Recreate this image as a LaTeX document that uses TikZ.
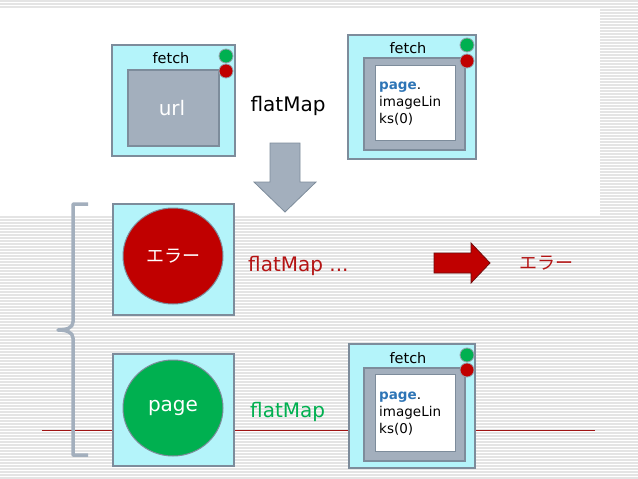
\documentclass[tikz,border=0pt]{standalone}
\usepackage{fontspec}
\usetikzlibrary{shapes.geometric}
\setmainfont{DejaVu Sans}
\newfontfamily\jpfont{Noto Sans CJK JP}
\definecolor{cyanfill}{RGB}{180,244,250}
\definecolor{boxedge}{RGB}{125,140,155}
\definecolor{grayfill}{RGB}{163,175,189}
\definecolor{okgreen}{RGB}{0,176,80}
\definecolor{errred}{RGB}{192,0,0}
\definecolor{txtred}{RGB}{180,20,20}
\definecolor{pageblue}{RGB}{46,117,182}
\definecolor{stripe}{RGB}{228,228,228}
\definecolor{lineRed}{RGB}{160,20,20}
\begin{document}
\begin{tikzpicture}[x=1pt,y=-1pt,
  outerbox/.style={draw=boxedge,line width=1.3pt,fill=cyanfill,minimum width=#1,inner sep=0pt},
  graybox/.style={draw=boxedge,line width=1.3pt,fill=grayfill,inner sep=0pt},
  whitebox/.style={draw=boxedge,line width=1pt,fill=white,inner sep=0pt},
  dot/.style={circle,draw=boxedge!80,line width=0.8pt,fill=#1,minimum size=14pt,inner sep=0pt},
  fetchlbl/.style={font=\fontsize{14.5}{16}\selectfont,inner sep=0pt},
  code/.style={font=\fontsize{13.5}{17}\selectfont,align=left,anchor=west,inner sep=0pt},
  big/.style={font=\fontsize{20}{22}\selectfont,inner sep=0pt},
  jp/.style={font=\jpfont\fontsize{18}{20}\selectfont,inner sep=0pt},
  result/.style={ellipse,draw=boxedge,line width=1pt,fill=#1,minimum width=100pt,minimum height=96pt,inner sep=0pt}
]
\useasboundingbox (0,0) rectangle (638,479);
% background
\fill[white] (0,0) rectangle (638,479);
\foreach \y in {1,4,...,478} \draw[stripe,line width=1.1pt] (0,\y) -- (638,\y);
\fill[white] (0,8) rectangle (600,215);
% red line
\coordinate (lineA) at (42,430);
\coordinate (lineB) at (595,430);
\draw[lineRed,line width=0.8pt] (lineA) -- (lineB);

% top-left fetch
\node[outerbox=123pt,minimum height=111pt] (f1) at (173.5,100.5) {};
\node[graybox,minimum width=91pt,minimum height=76pt] (u1) at (173.5,108) {};
\node[fetchlbl] (f1l) at (171,58) {fetch};
\node[dot=okgreen] (f1g) at (226,56) {};
\node[dot=errred] (f1r) at (226,71) {};
\node[big,text=white] (url) at (172,108) {url};

\node[big] (fm1) at (288,106) {flatMap};

% top-right fetch
\node[outerbox=128pt,minimum height=124pt] (f2) at (412,97) {};
\node[graybox,minimum width=101pt,minimum height=92pt] (g2) at (414.5,104) {};
\node[whitebox,minimum width=80pt,minimum height=75pt] (w2) at (415,102.5) {};
\node[fetchlbl] (f2l) at (408,48) {fetch};
\node[dot=okgreen] (f2g) at (467,45) {};
\node[dot=errred] (f2r) at (467,61) {};
\node[code] (c2) at (379,104) {\textcolor{pageblue}{\textbf{page}}.\\imageLin\\ks(0)};

% down arrow
\fill[grayfill,draw=boxedge,line width=0.8pt,line join=miter]
  (270,143) -- (300,143) -- (300,182) -- (316,182) -- (285,212) -- (254,182) -- (270,182) -- cycle;

% bracket
\draw[grayfill,line width=3.5pt,line join=round]
  (88,204) -- (73,204) -- (73,322) .. controls (73,328) and (66,330) .. (58,330)
  .. controls (66,330) and (73,332) .. (73,338) -- (73,455) -- (88,455);

% error row
\node[outerbox=121pt,minimum height=111pt] (eb) at (173.5,259.5) {};
\node[result=errred] (ec) at (173,256) {};
\node[jp,text=white] (et) at (173,256) {エラー};
\node[big,text=txtred,anchor=west] (fm2) at (248,266) {flatMap ...};
\fill[errred,draw=lineRed!70!black,line width=0.8pt]
  (434,253) -- (471,253) -- (471,243) -- (490,263) -- (471,283) -- (471,273) -- (434,273) -- cycle;
\node[jp,text=txtred] (et2) at (546,263) {エラー};

% page row
\node[outerbox=121pt,minimum height=112pt] (pb) at (173.5,410) {};
\node[result=okgreen] (pc) at (173,408) {};
\node[big,text=white] (pt) at (173,408) {page};
\node[big,text=okgreen,anchor=west] (fm3) at (250,412) {flatMap};

% bottom-right fetch
\node[outerbox=126pt,minimum height=124pt] (f3) at (412,406) {};
\node[graybox,minimum width=101pt,minimum height=93pt] (g3) at (414.5,414.5) {};
\node[whitebox,minimum width=80pt,minimum height=77pt] (w3) at (415,412.5) {};
\node[fetchlbl] (f3l) at (408,358) {fetch};
\node[dot=okgreen] (f3g) at (467,355) {};
\node[dot=errred] (f3r) at (467,370) {};
\node[code] (c3) at (379,414) {\textcolor{pageblue}{\textbf{page}}.\\imageLin\\ks(0)};
\end{tikzpicture}
\end{document}
